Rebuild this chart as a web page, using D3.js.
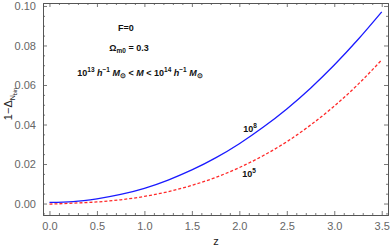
<!DOCTYPE html>
<html>
<head>
<meta charset="utf-8">
<script src="https://cdn.jsdelivr.net/npm/d3@7"></script>
<style>
  html, body { margin: 0; padding: 0; background: #fff; }
  svg { display: block; font-family: "Liberation Sans", Arial, sans-serif; }
</style>
</head>
<body>
<svg id="chart" width="390" height="248"></svg>
<script>
// values
const zValues = [0, 0.25, 0.5, 0.75, 1.0, 1.25, 1.5, 1.75, 2.0, 2.25, 2.5, 2.75, 3.0, 3.25, 3.5];
const series1e8 = [0.0006, 0.0010, 0.0024, 0.0046, 0.0077, 0.0119, 0.0170, 0.0231, 0.0303, 0.0386, 0.0479, 0.0584, 0.0701, 0.0830, 0.0970];
const series1e5 = [-0.0003, 0.0002, 0.0008, 0.0019, 0.0036, 0.0060, 0.0092, 0.0132, 0.0182, 0.0242, 0.0313, 0.0397, 0.0493, 0.0603, 0.0727];
const xTicks = [0, 0.5, 1.0, 1.5, 2.0, 2.5, 3.0, 3.5];
const yTicks = [0, 0.02, 0.04, 0.06, 0.08, 0.10];

const svg = d3.select("#chart");
const plotLeft = 43, plotRight = 388, plotTop = 3, plotBottom = 215;

const x = d3.scaleLinear().domain([-0.068, 3.566]).range([plotLeft, plotRight]);
const y = d3.scaleLinear().domain([-0.0058, 0.1015]).range([plotBottom, plotTop]);

const frameColor = "#555";
const labelColor = "#666";

// minor tick values
const xMinor = d3.range(0, 3.5001, 0.1).filter(v => Math.abs(v * 2 - Math.round(v * 2)) > 1e-6);
const yMinor = d3.range(-0.005, 0.1001, 0.005).filter(v => Math.abs(v * 50 - Math.round(v * 50)) > 1e-6);

function drawAxis(axis, pos) {
    const g = svg.append("g").attr("transform", pos).call(axis);
    g.select(".domain").attr("stroke", frameColor).attr("stroke-width", 1);
    g.selectAll(".tick line").attr("stroke", frameColor).attr("stroke-width", 0.8);
    g.selectAll(".tick text").attr("fill", labelColor).style("font-size", "11px");
    return g;
}

// bottom / left with labels, ticks inward
drawAxis(d3.axisBottom(x).tickValues(xTicks).tickSizeInner(-4).tickSizeOuter(0)
    .tickPadding(7).tickFormat(d3.format(".1f")), `translate(0,${plotBottom})`);
drawAxis(d3.axisBottom(x).tickValues(xMinor).tickSizeInner(-2).tickSizeOuter(0).tickFormat(""),
    `translate(0,${plotBottom})`);
drawAxis(d3.axisLeft(y).tickValues(yTicks).tickSizeInner(-4).tickSizeOuter(0)
    .tickPadding(7).tickFormat(d3.format(".2f")), `translate(${plotLeft},0)`);
drawAxis(d3.axisLeft(y).tickValues(yMinor).tickSizeInner(-2).tickSizeOuter(0).tickFormat(""),
    `translate(${plotLeft},0)`);

// top / right, no labels
drawAxis(d3.axisTop(x).tickValues(xTicks).tickSizeInner(-4).tickSizeOuter(0).tickFormat(""),
    `translate(0,${plotTop})`);
drawAxis(d3.axisTop(x).tickValues(xMinor).tickSizeInner(-2).tickSizeOuter(0).tickFormat(""),
    `translate(0,${plotTop})`);
drawAxis(d3.axisRight(y).tickValues(yTicks).tickSizeInner(-4).tickSizeOuter(0).tickFormat(""),
    `translate(${plotRight},0)`);
drawAxis(d3.axisRight(y).tickValues(yMinor).tickSizeInner(-2).tickSizeOuter(0).tickFormat(""),
    `translate(${plotRight},0)`);

// curves
const line = d3.line().x(d => x(d[0])).y(d => y(d[1])).curve(d3.curveMonotoneX);

svg.append("path")
    .datum(zValues.map((z, i) => [z, series1e8[i]]))
    .attr("fill", "none").attr("stroke", "#1a1aff").attr("stroke-width", 1.3)
    .attr("d", line);

svg.append("path")
    .datum(zValues.map((z, i) => [z, series1e5[i]]))
    .attr("fill", "none").attr("stroke", "#ff2a2a").attr("stroke-width", 1.3)
    .attr("stroke-dasharray", "3,2")
    .attr("d", line);

// curve labels
function powLabel(px, py, base, exp) {
    const t = svg.append("text").attr("x", px).attr("y", py)
        .attr("font-size", 9).attr("font-weight", "bold").attr("fill", "#111")
        .attr("text-anchor", "middle");
    t.append("tspan").text(base);
    t.append("tspan").attr("dy", -4).attr("font-size", 6.5).text(exp);
}
powLabel(250, 132, "10", "8");
powLabel(249, 177, "10", "5");

// annotations
svg.append("text").attr("x", 126).attr("y", 31).attr("text-anchor", "middle")
    .attr("font-size", 9).attr("font-weight", "bold").attr("fill", "#111").text("F=0");

const om = svg.append("text").attr("x", 129).attr("y", 51).attr("text-anchor", "middle")
    .attr("font-size", 9).attr("font-weight", "bold").attr("fill", "#111");
om.append("tspan").text("Ω");
om.append("tspan").attr("dy", 2).attr("font-size", 6.5).text("m0");
om.append("tspan").attr("dy", -2).text(" = 0.3");

const mass = svg.append("text").attr("x", 140).attr("y", 76).attr("text-anchor", "middle")
    .attr("font-size", 9).attr("font-weight", "bold").attr("fill", "#111");
mass.append("tspan").text("10");
mass.append("tspan").attr("dy", -4).attr("font-size", 6.5).text("13");
mass.append("tspan").attr("dy", 4).text(" ");
mass.append("tspan").attr("font-style", "italic").text("h");
mass.append("tspan").attr("dy", -4).attr("font-size", 6.5).text("−1");
mass.append("tspan").attr("dy", 4).text(" ");
mass.append("tspan").attr("font-style", "italic").text("M");
mass.append("tspan").attr("dy", 1.5).attr("font-size", 7).text("⊙");
mass.append("tspan").attr("dy", -1.5).text(" < ");
mass.append("tspan").attr("font-style", "italic").text("M");
mass.append("tspan").text(" < 10");
mass.append("tspan").attr("dy", -4).attr("font-size", 6.5).text("14");
mass.append("tspan").attr("dy", 4).text(" ");
mass.append("tspan").attr("font-style", "italic").text("h");
mass.append("tspan").attr("dy", -4).attr("font-size", 6.5).text("−1");
mass.append("tspan").attr("dy", 4).text(" ");
mass.append("tspan").attr("font-style", "italic").text("M");
mass.append("tspan").attr("dy", 1.5).attr("font-size", 7).text("⊙");

// axis titles
svg.append("text").attr("x", 216).attr("y", 245).attr("text-anchor", "middle")
    .attr("font-size", 11).attr("fill", "#222").text("z");

const yt = svg.append("text")
    .attr("transform", "translate(12,104) rotate(-90)")
    .attr("text-anchor", "middle").attr("font-size", 11).attr("fill", "#222");
yt.append("tspan").text("1−Δ");
yt.append("tspan").attr("dy", 3).attr("font-size", 7).text("N");
yt.append("tspan").attr("dy", 1.5).attr("font-size", 5.5).text("bin");
</script>
</body>
</html>
